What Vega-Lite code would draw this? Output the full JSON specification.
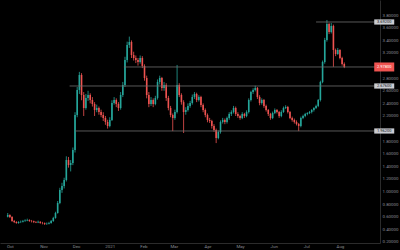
{
  "$schema": "https://vega.github.io/schema/vega-lite/v6.json",
  "width": 380,
  "height": 243,
  "autosize": {"type": "none"},
  "padding": {"left": 0, "top": 0, "right": 20, "bottom": 7},
  "background": "#000000",
  "config": {
    "view": {"stroke": null},
    "font": "Roboto",
    "axis": {"grid": false, "ticks": false, "title": null, "labelColor": "#8a8d93", "labelFontSize": 4.4, "domainColor": "#2b2b2b", "labelFont": "Roboto", "labelOverlap": false}
  },
  "datasets": {
    "candles": [
      {"d":"2020-09-29","o":0.60,"h":0.66,"l":0.59,"c":0.629},
      {"d":"2020-10-01","o":0.629,"h":0.64,"l":0.58,"c":0.597},
      {"d":"2020-10-03","o":0.597,"h":0.61,"l":0.52,"c":0.533},
      {"d":"2020-10-05","o":0.533,"h":0.55,"l":0.50,"c":0.517},
      {"d":"2020-10-07","o":0.517,"h":0.53,"l":0.49,"c":0.502},
      {"d":"2020-10-09","o":0.502,"h":0.53,"l":0.49,"c":0.517},
      {"d":"2020-10-11","o":0.517,"h":0.54,"l":0.50,"c":0.52},
      {"d":"2020-10-13","o":0.52,"h":0.55,"l":0.51,"c":0.533},
      {"d":"2020-10-15","o":0.533,"h":0.56,"l":0.52,"c":0.54},
      {"d":"2020-10-17","o":0.54,"h":0.57,"l":0.53,"c":0.549},
      {"d":"2020-10-19","o":0.549,"h":0.56,"l":0.52,"c":0.533},
      {"d":"2020-10-21","o":0.533,"h":0.55,"l":0.51,"c":0.53},
      {"d":"2020-10-23","o":0.53,"h":0.54,"l":0.50,"c":0.517},
      {"d":"2020-10-25","o":0.517,"h":0.53,"l":0.50,"c":0.51},
      {"d":"2020-10-27","o":0.51,"h":0.54,"l":0.50,"c":0.52},
      {"d":"2020-10-29","o":0.52,"h":0.53,"l":0.49,"c":0.502},
      {"d":"2020-10-31","o":0.502,"h":0.52,"l":0.48,"c":0.50},
      {"d":"2020-11-02","o":0.50,"h":0.51,"l":0.47,"c":0.486},
      {"d":"2020-11-04","o":0.486,"h":0.51,"l":0.47,"c":0.49},
      {"d":"2020-11-06","o":0.49,"h":0.52,"l":0.48,"c":0.502},
      {"d":"2020-11-08","o":0.502,"h":0.55,"l":0.49,"c":0.533},
      {"d":"2020-11-10","o":0.533,"h":0.60,"l":0.52,"c":0.581},
      {"d":"2020-11-12","o":0.581,"h":0.68,"l":0.57,"c":0.660},
      {"d":"2020-11-14","o":0.660,"h":0.85,"l":0.65,"c":0.819},
      {"d":"2020-11-16","o":0.819,"h":1.06,"l":0.80,"c":1.025},
      {"d":"2020-11-18","o":1.025,"h":1.14,"l":0.98,"c":1.089},
      {"d":"2020-11-20","o":1.089,"h":1.22,"l":1.05,"c":1.184},
      {"d":"2020-11-22","o":1.184,"h":1.56,"l":1.16,"c":1.502},
      {"d":"2020-11-24","o":1.502,"h":1.55,"l":1.38,"c":1.422},
      {"d":"2020-11-26","o":1.422,"h":1.50,"l":1.32,"c":1.454},
      {"d":"2020-11-28","o":1.454,"h":1.70,"l":1.42,"c":1.660},
      {"d":"2020-11-30","o":1.660,"h":2.26,"l":1.62,"c":2.216},
      {"d":"2020-12-02","o":2.216,"h":2.66,"l":2.18,"c":2.613},
      {"d":"2020-12-04","o":2.613,"h":2.90,"l":2.55,"c":2.851},
      {"d":"2020-12-06","o":2.851,"h":2.88,"l":2.45,"c":2.533},
      {"d":"2020-12-08","o":2.533,"h":2.58,"l":2.20,"c":2.327},
      {"d":"2020-12-10","o":2.327,"h":2.55,"l":2.30,"c":2.486},
      {"d":"2020-12-12","o":2.486,"h":2.60,"l":2.44,"c":2.533},
      {"d":"2020-12-14","o":2.533,"h":2.56,"l":2.40,"c":2.454},
      {"d":"2020-12-16","o":2.454,"h":2.50,"l":2.35,"c":2.390},
      {"d":"2020-12-18","o":2.390,"h":2.42,"l":2.20,"c":2.295},
      {"d":"2020-12-20","o":2.295,"h":2.38,"l":2.26,"c":2.327},
      {"d":"2020-12-22","o":2.327,"h":2.35,"l":2.22,"c":2.263},
      {"d":"2020-12-24","o":2.263,"h":2.30,"l":2.18,"c":2.216},
      {"d":"2020-12-26","o":2.216,"h":2.26,"l":2.12,"c":2.168},
      {"d":"2020-12-28","o":2.168,"h":2.20,"l":2.06,"c":2.105},
      {"d":"2020-12-30","o":2.105,"h":2.14,"l":2.00,"c":2.041},
      {"d":"2021-01-01","o":2.041,"h":2.18,"l":2.02,"c":2.137},
      {"d":"2021-01-03","o":2.137,"h":2.45,"l":2.12,"c":2.406},
      {"d":"2021-01-05","o":2.406,"h":2.50,"l":2.38,"c":2.454},
      {"d":"2021-01-07","o":2.454,"h":2.48,"l":2.34,"c":2.390},
      {"d":"2021-01-09","o":2.390,"h":2.42,"l":2.28,"c":2.327},
      {"d":"2021-01-11","o":2.327,"h":2.58,"l":2.30,"c":2.533},
      {"d":"2021-01-13","o":2.533,"h":2.74,"l":2.50,"c":2.692},
      {"d":"2021-01-15","o":2.692,"h":3.14,"l":2.66,"c":3.089},
      {"d":"2021-01-17","o":3.089,"h":3.38,"l":3.05,"c":3.327},
      {"d":"2021-01-19","o":3.327,"h":3.46,"l":3.28,"c":3.375},
      {"d":"2021-01-21","o":3.375,"h":3.40,"l":3.12,"c":3.168},
      {"d":"2021-01-23","o":3.168,"h":3.22,"l":3.08,"c":3.121},
      {"d":"2021-01-25","o":3.121,"h":3.16,"l":3.04,"c":3.089},
      {"d":"2021-01-27","o":3.089,"h":3.12,"l":3.00,"c":3.057},
      {"d":"2021-01-29","o":3.057,"h":3.16,"l":3.03,"c":3.121},
      {"d":"2021-01-31","o":3.121,"h":3.15,"l":2.96,"c":2.994},
      {"d":"2021-02-02","o":2.994,"h":3.02,"l":2.76,"c":2.803},
      {"d":"2021-02-04","o":2.803,"h":2.84,"l":2.48,"c":2.533},
      {"d":"2021-02-06","o":2.533,"h":2.58,"l":2.34,"c":2.390},
      {"d":"2021-02-08","o":2.390,"h":2.50,"l":2.36,"c":2.454},
      {"d":"2021-02-10","o":2.454,"h":2.48,"l":2.34,"c":2.390},
      {"d":"2021-02-12","o":2.390,"h":2.52,"l":2.37,"c":2.486},
      {"d":"2021-02-14","o":2.486,"h":2.78,"l":2.46,"c":2.740},
      {"d":"2021-02-16","o":2.740,"h":2.84,"l":2.70,"c":2.803},
      {"d":"2021-02-18","o":2.803,"h":2.82,"l":2.60,"c":2.644},
      {"d":"2021-02-20","o":2.644,"h":2.74,"l":2.60,"c":2.692},
      {"d":"2021-02-22","o":2.692,"h":2.72,"l":2.44,"c":2.486},
      {"d":"2021-02-24","o":2.486,"h":2.52,"l":2.29,"c":2.327},
      {"d":"2021-02-26","o":2.327,"h":2.36,"l":2.18,"c":2.216},
      {"d":"2021-02-28","o":2.216,"h":2.24,"l":1.96,"c":2.168},
      {"d":"2021-03-02","o":2.168,"h":2.30,"l":2.14,"c":2.263},
      {"d":"2021-03-04","o":2.263,"h":3.01,"l":2.24,"c":2.692},
      {"d":"2021-03-06","o":2.692,"h":2.72,"l":2.50,"c":2.533},
      {"d":"2021-03-08","o":2.533,"h":2.56,"l":2.38,"c":2.42},
      {"d":"2021-03-10","o":2.42,"h":2.45,"l":1.93,"c":2.263},
      {"d":"2021-03-12","o":2.263,"h":2.34,"l":2.22,"c":2.295},
      {"d":"2021-03-14","o":2.295,"h":2.40,"l":2.27,"c":2.359},
      {"d":"2021-03-16","o":2.359,"h":2.44,"l":2.33,"c":2.406},
      {"d":"2021-03-18","o":2.406,"h":2.54,"l":2.38,"c":2.502},
      {"d":"2021-03-20","o":2.502,"h":2.58,"l":2.47,"c":2.549},
      {"d":"2021-03-22","o":2.549,"h":2.57,"l":2.42,"c":2.454},
      {"d":"2021-03-24","o":2.454,"h":2.53,"l":2.43,"c":2.502},
      {"d":"2021-03-26","o":2.502,"h":2.52,"l":2.34,"c":2.375},
      {"d":"2021-03-28","o":2.375,"h":2.40,"l":2.26,"c":2.295},
      {"d":"2021-03-30","o":2.295,"h":2.32,"l":2.18,"c":2.216},
      {"d":"2021-04-01","o":2.216,"h":2.24,"l":2.10,"c":2.137},
      {"d":"2021-04-03","o":2.137,"h":2.17,"l":2.09,"c":2.12},
      {"d":"2021-04-05","o":2.12,"h":2.14,"l":2.00,"c":2.041},
      {"d":"2021-04-07","o":2.041,"h":2.07,"l":1.95,"c":1.978},
      {"d":"2021-04-09","o":1.978,"h":2.00,"l":1.77,"c":1.851},
      {"d":"2021-04-11","o":1.851,"h":1.97,"l":1.83,"c":1.946},
      {"d":"2021-04-13","o":1.946,"h":2.13,"l":1.92,"c":2.105},
      {"d":"2021-04-15","o":2.105,"h":2.17,"l":2.08,"c":2.137},
      {"d":"2021-04-17","o":2.137,"h":2.16,"l":2.07,"c":2.105},
      {"d":"2021-04-19","o":2.105,"h":2.19,"l":2.08,"c":2.168},
      {"d":"2021-04-21","o":2.168,"h":2.26,"l":2.14,"c":2.232},
      {"d":"2021-04-23","o":2.232,"h":2.29,"l":2.20,"c":2.263},
      {"d":"2021-04-25","o":2.263,"h":2.36,"l":2.24,"c":2.327},
      {"d":"2021-04-27","o":2.327,"h":2.35,"l":2.20,"c":2.232},
      {"d":"2021-04-29","o":2.232,"h":2.26,"l":2.17,"c":2.200},
      {"d":"2021-05-01","o":2.200,"h":2.22,"l":2.14,"c":2.168},
      {"d":"2021-05-03","o":2.168,"h":2.26,"l":2.15,"c":2.232},
      {"d":"2021-05-05","o":2.232,"h":2.25,"l":2.17,"c":2.200},
      {"d":"2021-05-07","o":2.200,"h":2.29,"l":2.18,"c":2.263},
      {"d":"2021-05-09","o":2.263,"h":2.48,"l":2.24,"c":2.454},
      {"d":"2021-05-11","o":2.454,"h":2.60,"l":2.43,"c":2.581},
      {"d":"2021-05-13","o":2.581,"h":2.64,"l":2.55,"c":2.613},
      {"d":"2021-05-15","o":2.613,"h":2.68,"l":2.59,"c":2.644},
      {"d":"2021-05-17","o":2.644,"h":2.66,"l":2.47,"c":2.502},
      {"d":"2021-05-19","o":2.502,"h":2.53,"l":2.37,"c":2.406},
      {"d":"2021-05-21","o":2.406,"h":2.48,"l":2.38,"c":2.454},
      {"d":"2021-05-23","o":2.454,"h":2.47,"l":2.33,"c":2.359},
      {"d":"2021-05-25","o":2.359,"h":2.38,"l":2.27,"c":2.295},
      {"d":"2021-05-27","o":2.295,"h":2.31,"l":2.20,"c":2.232},
      {"d":"2021-05-29","o":2.232,"h":2.25,"l":2.14,"c":2.168},
      {"d":"2021-05-31","o":2.168,"h":2.27,"l":2.15,"c":2.248},
      {"d":"2021-06-02","o":2.248,"h":2.32,"l":2.23,"c":2.295},
      {"d":"2021-06-04","o":2.295,"h":2.31,"l":2.24,"c":2.263},
      {"d":"2021-06-06","o":2.263,"h":2.28,"l":2.17,"c":2.200},
      {"d":"2021-06-08","o":2.200,"h":2.29,"l":2.18,"c":2.263},
      {"d":"2021-06-10","o":2.263,"h":2.35,"l":2.25,"c":2.327},
      {"d":"2021-06-12","o":2.327,"h":2.37,"l":2.31,"c":2.343},
      {"d":"2021-06-14","o":2.343,"h":2.36,"l":2.24,"c":2.263},
      {"d":"2021-06-16","o":2.263,"h":2.28,"l":2.15,"c":2.168},
      {"d":"2021-06-18","o":2.168,"h":2.19,"l":2.11,"c":2.137},
      {"d":"2021-06-20","o":2.137,"h":2.16,"l":2.08,"c":2.105},
      {"d":"2021-06-22","o":2.105,"h":2.13,"l":2.05,"c":2.073},
      {"d":"2021-06-24","o":2.073,"h":2.09,"l":1.96,"c":2.041},
      {"d":"2021-06-26","o":2.041,"h":2.19,"l":2.02,"c":2.168},
      {"d":"2021-06-28","o":2.168,"h":2.22,"l":2.15,"c":2.200},
      {"d":"2021-06-30","o":2.200,"h":2.25,"l":2.18,"c":2.232},
      {"d":"2021-07-02","o":2.232,"h":2.26,"l":2.21,"c":2.248},
      {"d":"2021-07-04","o":2.248,"h":2.28,"l":2.23,"c":2.263},
      {"d":"2021-07-06","o":2.263,"h":2.31,"l":2.24,"c":2.295},
      {"d":"2021-07-08","o":2.295,"h":2.34,"l":2.27,"c":2.327},
      {"d":"2021-07-10","o":2.327,"h":2.38,"l":2.31,"c":2.359},
      {"d":"2021-07-12","o":2.359,"h":2.47,"l":2.34,"c":2.454},
      {"d":"2021-07-14","o":2.454,"h":2.76,"l":2.43,"c":2.740},
      {"d":"2021-07-16","o":2.740,"h":3.08,"l":2.72,"c":3.057},
      {"d":"2021-07-18","o":3.057,"h":3.44,"l":3.03,"c":3.406},
      {"d":"2021-07-20","o":3.406,"h":3.724,"l":3.38,"c":3.660},
      {"d":"2021-07-22","o":3.660,"h":3.68,"l":3.50,"c":3.533},
      {"d":"2021-07-24","o":3.533,"h":3.676,"l":3.51,"c":3.629},
      {"d":"2021-07-26","o":3.629,"h":3.65,"l":2.98,"c":3.248},
      {"d":"2021-07-28","o":3.248,"h":3.27,"l":3.15,"c":3.184},
      {"d":"2021-07-30","o":3.184,"h":3.28,"l":3.17,"c":3.248},
      {"d":"2021-08-01","o":3.248,"h":3.26,"l":3.10,"c":3.121},
      {"d":"2021-08-03","o":3.121,"h":3.14,"l":3.00,"c":3.025},
      {"d":"2021-08-05","o":3.025,"h":3.05,"l":2.96,"c":2.978}
    ],
    "levels": [
      {"start":"2021-07-10","p":3.692,"lab":"3.69200","kind":"level"},
      {"start":"2021-01-14","p":2.978,"lab":"2.97800","kind":"current"},
      {"start":"2020-11-25","p":2.676,"lab":"2.67600","kind":"level"},
      {"start":"2020-11-30","p":1.962,"lab":"1.96200","kind":"level"}
    ]
  },
  "encoding": {
    "x": {
      "type": "temporal",
      "scale": {"type": "utc", "domain": [{"year": 2020, "month": 9, "date": 26, "hours": 12, "utc": true}, {"year": 2021, "month": 9, "date": 2, "hours": 7, "utc": true}]},
      "axis": {
        "orient": "bottom",
        "tickCount": {"interval": "month", "step": 1},
        "labelExpr": "(utcmonth(datum.value) == 8 && utcyear(datum.value) == 2021) ? '' : (utcmonth(datum.value) == 0 ? utcFormat(datum.value, '%Y') : utcFormat(datum.value, '%b'))",
        "labelPadding": 1,
        "labelBaseline": "top",
        "labelOverlap": false
      }
    },
    "y": {
      "type": "quantitative",
      "scale": {"domain": [0.184, 4.041], "nice": false, "zero": false},
      "axis": {
        "orient": "right",
        "tickCount": 19,
        "format": ".5f",
        "labelExpr": "(datum.value > 3.9 || abs(datum.value - 3.0) < 0.01 || abs(datum.value - 2.0) < 0.01) ? '' : datum.label",
        "labelPadding": 2,
        "labelOverlap": false
      }
    }
  },
  "layer": [
    {
      "data": {"name": "candles"},
      "mark": {"type": "bar", "size": 1.6},
      "encoding": {
        "x": {"field": "d", "type": "temporal"},
        "y": {"field": "o", "type": "quantitative"},
        "y2": {"field": "c"},
        "color": {"condition": {"test": "datum.c >= datum.o", "value": "#26a69a"}, "value": "#ef5350"}
      }
    },
    {
      "data": {"name": "candles"},
      "mark": {"type": "rule", "strokeWidth": 0.8},
      "encoding": {
        "x": {"field": "d", "type": "temporal"},
        "y": {"field": "l", "type": "quantitative"},
        "y2": {"field": "h"},
        "color": {"condition": {"test": "datum.c >= datum.o", "value": "#26a69a"}, "value": "#ef5350"}
      }
    },
    {
      "data": {"name": "levels"},
      "mark": {"type": "rule", "color": "#6e6e6e", "strokeWidth": 0.8},
      "encoding": {
        "x": {"field": "start", "type": "temporal"},
        "x2": {"datum": {"year": 2021, "month": 9, "date": 2, "hours": 7, "utc": true}},
        "y": {"field": "p", "type": "quantitative"}
      }
    },
    {
      "data": {"name": "levels"},
      "mark": {"type": "point", "filled": true, "opacity": 1, "size": 400, "shape": "M-1,-0.26L1,-0.26L1,0.26L-1,0.26Z"},
      "transform": [{"filter": "datum.kind == 'level'"}],
      "encoding": {
        "x": {"datum": {"year": 2021, "month": 9, "date": 10, "hours": 19, "utc": true}, "type": "temporal"},
        "y": {"field": "p", "type": "quantitative"},
        "color": {"value": "#c9cbd0"}
      }
    },
    {
      "data": {"name": "levels"},
      "mark": {"type": "point", "filled": true, "opacity": 1, "size": 400, "shape": "M-1,-0.45L1,-0.45L1,0.45L-1,0.45Z"},
      "transform": [{"filter": "datum.kind == 'current'"}],
      "encoding": {
        "x": {"datum": {"year": 2021, "month": 9, "date": 10, "hours": 19, "utc": true}, "type": "temporal"},
        "y": {"field": "p", "type": "quantitative"},
        "color": {"value": "#ef5350"}
      }
    },
    {
      "data": {"name": "levels"},
      "mark": {"type": "text", "fontSize": 4, "baseline": "middle", "align": "center"},
      "encoding": {
        "x": {"datum": {"year": 2021, "month": 9, "date": 10, "hours": 19, "utc": true}, "type": "temporal"},
        "y": {"field": "p", "type": "quantitative"},
        "text": {"field": "lab"},
        "color": {"condition": {"test": "datum.kind == 'current'", "value": "#ffffff"}, "value": "#131722"}
      }
    },
    {
      "mark": {"type": "text", "fontSize": 4.5, "align": "left", "baseline": "top", "color": "#8a8d93"},
      "encoding": {
        "x": {"datum": {"year": 2020, "month": 10, "date": 1, "utc": true}, "type": "temporal"},
        "y": {"datum": 4.02},
        "text": {"value": "ADAUSDT, 1D ·"}
      }
    },
    {
      "mark": {"type": "text", "fontSize": 4.5, "align": "left", "baseline": "top", "color": "#ef5350"},
      "encoding": {
        "x": {"datum": {"year": 2020, "month": 10, "date": 30, "utc": true}, "type": "temporal"},
        "y": {"datum": 4.02},
        "text": {"value": "O3.025 H3.050 L2.960 C2.978"}
      }
    },
    {
      "mark": {"type": "point", "filled": true, "size": 22, "color": "#7e57c2", "opacity": 1},
      "encoding": {
        "x": {"datum": {"year": 2021, "month": 8, "date": 1, "utc": true}, "type": "temporal"},
        "y": {"datum": 0.23}
      }
    }
  ]
}
